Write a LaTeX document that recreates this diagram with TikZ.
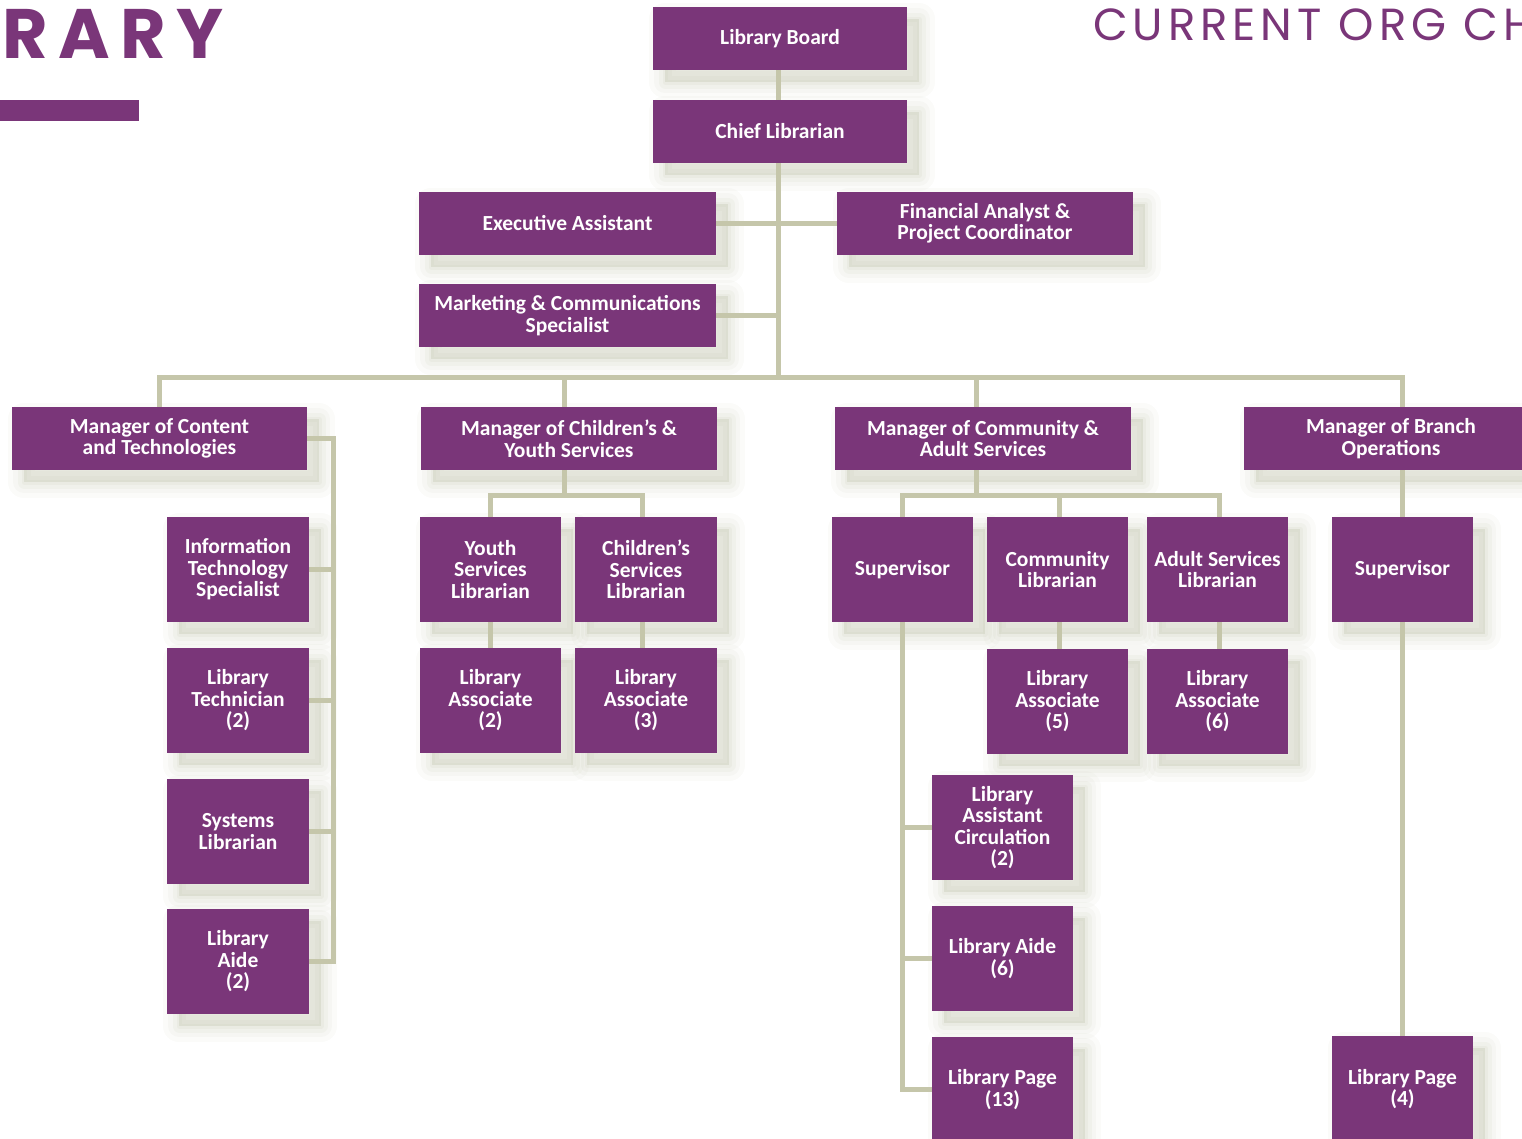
\documentclass[tikz,border=0pt]{standalone}
\usepackage{fontspec}
\setmainfont{Carlito}
\newfontfamily\headfont{Poppins}[LetterSpace=15]
\newfontfamily\headlight{Poppins}[LetterSpace=11]
\definecolor{purp}{HTML}{7A3679}
\definecolor{linec}{HTML}{C5C6AA}
\definecolor{shc}{HTML}{C2C5AE}
\tikzset{
  orgbox/.style={fill=purp, text=white, align=center, inner sep=0pt,
    font=\fontsize{21.5}{21.5}\selectfont\bfseries,
    preaction={fill=shc, draw=shc, opacity=0.07, line width=32pt, line join=round,
      transform canvas={shift={(12pt,-12pt)}}},
    preaction={fill=shc, draw=shc, opacity=0.09, line width=22pt, line join=round,
      transform canvas={shift={(12pt,-12pt)}}},
    preaction={fill=shc, draw=shc, opacity=0.11, line width=13pt, line join=round,
      transform canvas={shift={(12pt,-12pt)}}},
    preaction={fill=shc, draw=shc, opacity=0.13, line width=5pt, line join=round,
      transform canvas={shift={(12pt,-12pt)}}}},
  link/.style={draw=linec, line width=5pt}
}
% \bx{name}{left}{top}{right}{bottom}{text}
\newcommand\bx[6]{%
  \node[orgbox, minimum width={#4-#2}, minimum height={#5-#3}]
    (#1) at ({(#2+#4)/2},{(#3+#5)/2}) {#6};}
\begin{document}
\begin{tikzpicture}[x=1pt, y=-1pt]
\path[use as bounding box] (0,0) rectangle (1522,1138);
\clip (0,0) rectangle (1522,1138);

% headings
\node[anchor=base west, inner sep=0pt, text=purp,
  font=\headfont\fontsize{70}{70}\selectfont\bfseries] (ttl) at (2,58) {RARY};
\fill[purp] (0,100) rectangle (139,121);
\node[anchor=base west, inner sep=0pt, text=purp,
  font=\headlight\fontsize{45}{45}\selectfont] (sub) at (1093,40) {CURRENT ORG CH};

% boxes
\bx{lb}{653}{7}{907}{70}{Library Board}
\bx{cl}{653}{100}{907}{163}{Chief Librarian}
\bx{ea}{419}{192}{716}{255}{Executive Assistant}
\bx{fa}{837}{192}{1133}{255}{Financial Analyst \&\\Project Coordinator}
\bx{mc}{419}{284}{716}{347}{Marketing \& Communications\\Specialist}
\bx{ma}{12}{407}{307}{470}{Manager of Content\\and Technologies}
\bx{mb}{421}{407}{717}{470}{Manager of Children’s \&\\Youth Services}
\bx{md}{835}{407}{1131}{470}{Manager of Community \&\\Adult Services}
\bx{me}{1244}{407}{1538}{470}{Manager of Branch\\Operations}

\bx{it}{167}{517}{309}{622}{Information\\Technology\\Specialist}
\bx{lt}{167}{648}{309}{753}{Library\\Technician\\(2)}
\bx{sl}{167}{779}{309}{884}{Systems\\Librarian}
\bx{la}{167}{909}{309}{1014}{Library\\Aide\\(2)}

\bx{ys}{420}{517}{561}{622}{Youth\\Services\\Librarian}
\bx{cs}{575}{517}{717}{622}{Children’s\\Services\\Librarian}
\bx{aa}{420}{648}{561}{753}{Library\\Associate\\(2)}
\bx{ab}{575}{648}{717}{753}{Library\\Associate\\(3)}

\bx{sa}{832}{517}{973}{622}{Supervisor}
\bx{co}{987}{517}{1128}{622}{Community\\Librarian}
\bx{as}{1147}{517}{1288}{622}{Adult Services\\Librarian}
\bx{ac}{987}{649}{1128}{754}{Library\\Associate\\(5)}
\bx{ad}{1147}{649}{1288}{754}{Library\\Associate\\(6)}
\bx{lac}{932}{775}{1073}{880}{Library\\Assistant\\Circulation\\(2)}
\bx{lax}{932}{906}{1073}{1011}{Library Aide\\(6)}
\bx{lpa}{932}{1037}{1073}{1142}{Library Page\\(13)}

\bx{sb}{1332}{517}{1473}{622}{Supervisor}
\bx{lpb}{1332}{1036}{1473}{1142}{Library Page\\(4)}

% connectors
\coordinate (trunk) at (778,377);
\coordinate (railA) at (333,0);
\coordinate (busB) at (0,495);

\draw[link] (lb.south -| trunk) -- (cl.north -| trunk);
\draw[link] (cl.south -| trunk) -- (trunk);
\draw[link] (ea.east) -- (ea.east -| trunk);
\draw[link] (fa.west) -- (fa.west -| trunk);
\draw[link] (mc.east) -- (mc.east -| trunk);

\draw[link] (ma.north) |- (trunk) -| (me.north -| sb.north);
\draw[link] ([xshift=-5pt]mb.north) -- ([xshift=-5pt]mb.north |- trunk);
\draw[link] ([xshift=-7pt]md.north) -- ([xshift=-7pt]md.north |- trunk);

\draw[link] (ma.east) -| (railA |- la.east) -- (la.east);
\draw[link] (it.east) -- (railA |- it.east);
\draw[link] (lt.east) -- (railA |- lt.east);
\draw[link] (sl.east) -- (railA |- sl.east);

\draw[link] ([xshift=-5pt]mb.south) -- ([xshift=-5pt]mb.south |- busB);
\draw[link] (ys.north) |- ([xshift=-4pt]cs.north |- busB) -- ([xshift=-4pt]cs.north);
\draw[link] (ys.south) -- (aa.north);
\draw[link] ([xshift=-4pt]cs.south) -- ([xshift=-4pt]ab.north);

\draw[link] ([xshift=-7pt]md.south) -- ([xshift=-7pt]md.south |- busB);
\draw[link] (sa.north) |- ([xshift=2pt]as.north |- busB) -- ([xshift=2pt]as.north);
\draw[link] ([xshift=2pt]co.north) -- ([xshift=2pt]co.north |- busB);
\draw[link] ([xshift=2pt]co.south) -- ([xshift=2pt]ac.north);
\draw[link] ([xshift=2pt]as.south) -- ([xshift=2pt]ad.north);
\draw[link] (sa.south) |- (lpa.west);
\draw[link] (lac.west) -- (lac.west -| sa.south);
\draw[link] (lax.west) -- (lax.west -| sa.south);

\draw[link] (me.south -| sb.north) -- (sb.north);
\draw[link] (sb.south) -- (lpb.north);
\end{tikzpicture}
\end{document}
